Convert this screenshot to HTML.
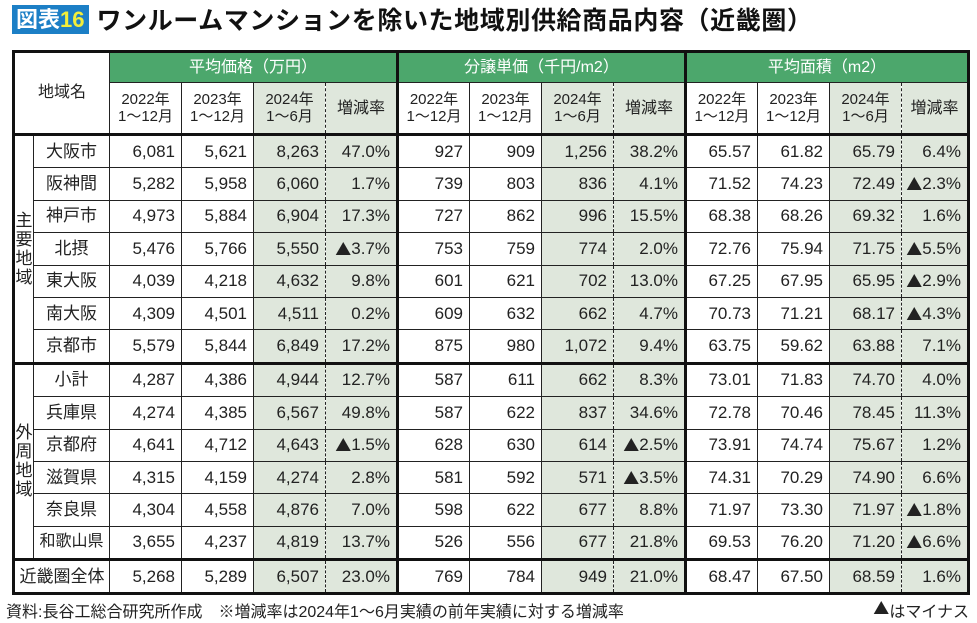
<!DOCTYPE html>
<html><head><meta charset="utf-8"><style>
body{margin:0;width:977px;height:623px;background:#fff;font-family:"Liberation Sans","Noto Sans CJK JP",sans-serif;position:relative;overflow:hidden;color:#222}
.title{position:absolute;left:12px;top:4px;height:30px;display:flex;align-items:center}
.badge{background:#1c7fc6;color:#fff;font-weight:bold;font-size:22px;padding:0 4px;height:29px;line-height:29px}
.badge b{color:#f3ee3a}
.ttl{font-weight:bold;font-size:25px;margin-left:8px;color:#111;letter-spacing:0.6px;font-family:"Noto Sans CJK JP",sans-serif}
table{position:absolute;left:12px;top:50px;border-collapse:collapse;table-layout:fixed;border:3px solid #111}
td{border:1px solid #222;padding:0;font-size:17px;text-align:right;padding-right:6px;height:31.4px;line-height:20px;white-space:nowrap;overflow:hidden}
.h1 td{background:#4ca76c;color:#fff;text-align:center;height:29px;font-size:16px;padding:0}
.h2 td{text-align:center;font-size:15px;line-height:17px;height:50px;padding:0}
.g{background:#dfe7dc}
.nd{border-right:none}
.r{border-left:1.5px dashed #222}
.name{text-align:center;padding:0}
.grp{text-align:center;padding:0;font-size:17px;line-height:19px;white-space:normal}
.tl{border-top:3px solid #111}
.vl{border-left:3px solid #111}
.t{font-family:"Noto Sans CJK JP",sans-serif;font-size:16px;line-height:1;display:inline-block;vertical-align:top;margin-top:1px}
.foot{position:absolute;top:598px;left:6px;font-size:16px;color:#222}
.foot2{position:absolute;top:598px;right:8px;font-size:16px;color:#222}
</style></head><body>
<div class="title"><span class="badge">図表<b>16</b></span><span class="ttl">ワンルームマンションを除いた地域別供給商品内容（近畿圏）</span></div>
<table>
<colgroup><col style="width:20px"><col style="width:76px">
<col style="width:72px"><col style="width:72px"><col style="width:72px"><col style="width:72px">
<col style="width:72px"><col style="width:72px"><col style="width:72px"><col style="width:72px">
<col style="width:72px"><col style="width:72px"><col style="width:72px"><col style="width:67px"></colgroup>
<tr class="h1"><td colspan="2" rowspan="2" style="background:#fff;color:#222;font-size:16px;border-bottom:3px solid #111">地域名</td><td colspan="4">平均価格（万円）</td><td colspan="4" class="vl">分譲単価（千円/m2）</td><td colspan="4" class="vl">平均面積（m2）</td></tr>
<tr class="h2">
<td>2022年<br>1～12月</td><td>2023年<br>1～12月</td><td class="g nd">2024年<br>1～6月</td><td class="g r" style="font-size:16px">増減率</td>
<td class="vl">2022年<br>1～12月</td><td>2023年<br>1～12月</td><td class="g nd">2024年<br>1～6月</td><td class="g r" style="font-size:16px">増減率</td>
<td class="vl">2022年<br>1～12月</td><td>2023年<br>1～12月</td><td class="g nd">2024年<br>1～6月</td><td class="g r" style="font-size:16px">増減率</td></tr>
<tr class="tl"><td rowspan="7" class="grp tl">主<br>要<br>地<br>域</td><td class="name tl">大阪市</td><td>6,081</td><td>5,621</td><td class="g nd">8,263</td><td class="g r">47.0%</td><td class="vl">927</td><td>909</td><td class="g nd">1,256</td><td class="g r">38.2%</td><td class="vl">65.57</td><td>61.82</td><td class="g nd">65.79</td><td class="g r">6.4%</td></tr>
<tr><td class="name">阪神間</td><td>5,282</td><td>5,958</td><td class="g nd">6,060</td><td class="g r">1.7%</td><td class="vl">739</td><td>803</td><td class="g nd">836</td><td class="g r">4.1%</td><td class="vl">71.52</td><td>74.23</td><td class="g nd">72.49</td><td class="g r"><span class="t">▲</span>2.3%</td></tr>
<tr><td class="name">神戸市</td><td>4,973</td><td>5,884</td><td class="g nd">6,904</td><td class="g r">17.3%</td><td class="vl">727</td><td>862</td><td class="g nd">996</td><td class="g r">15.5%</td><td class="vl">68.38</td><td>68.26</td><td class="g nd">69.32</td><td class="g r">1.6%</td></tr>
<tr><td class="name">北摂</td><td>5,476</td><td>5,766</td><td class="g nd">5,550</td><td class="g r"><span class="t">▲</span>3.7%</td><td class="vl">753</td><td>759</td><td class="g nd">774</td><td class="g r">2.0%</td><td class="vl">72.76</td><td>75.94</td><td class="g nd">71.75</td><td class="g r"><span class="t">▲</span>5.5%</td></tr>
<tr><td class="name">東大阪</td><td>4,039</td><td>4,218</td><td class="g nd">4,632</td><td class="g r">9.8%</td><td class="vl">601</td><td>621</td><td class="g nd">702</td><td class="g r">13.0%</td><td class="vl">67.25</td><td>67.95</td><td class="g nd">65.95</td><td class="g r"><span class="t">▲</span>2.9%</td></tr>
<tr><td class="name">南大阪</td><td>4,309</td><td>4,501</td><td class="g nd">4,511</td><td class="g r">0.2%</td><td class="vl">609</td><td>632</td><td class="g nd">662</td><td class="g r">4.7%</td><td class="vl">70.73</td><td>71.21</td><td class="g nd">68.17</td><td class="g r"><span class="t">▲</span>4.3%</td></tr>
<tr><td class="name">京都市</td><td>5,579</td><td>5,844</td><td class="g nd">6,849</td><td class="g r">17.2%</td><td class="vl">875</td><td>980</td><td class="g nd">1,072</td><td class="g r">9.4%</td><td class="vl">63.75</td><td>59.62</td><td class="g nd">63.88</td><td class="g r">7.1%</td></tr>
<tr class="tl"><td rowspan="6" class="grp tl">外<br>周<br>地<br>域</td><td class="name tl" style="border-left:none">小計</td><td>4,287</td><td>4,386</td><td class="g nd">4,944</td><td class="g r">12.7%</td><td class="vl">587</td><td>611</td><td class="g nd">662</td><td class="g r">8.3%</td><td class="vl">73.01</td><td>71.83</td><td class="g nd">74.70</td><td class="g r">4.0%</td></tr>
<tr><td class="name">兵庫県</td><td>4,274</td><td>4,385</td><td class="g nd">6,567</td><td class="g r">49.8%</td><td class="vl">587</td><td>622</td><td class="g nd">837</td><td class="g r">34.6%</td><td class="vl">72.78</td><td>70.46</td><td class="g nd">78.45</td><td class="g r">11.3%</td></tr>
<tr><td class="name">京都府</td><td>4,641</td><td>4,712</td><td class="g nd">4,643</td><td class="g r"><span class="t">▲</span>1.5%</td><td class="vl">628</td><td>630</td><td class="g nd">614</td><td class="g r"><span class="t">▲</span>2.5%</td><td class="vl">73.91</td><td>74.74</td><td class="g nd">75.67</td><td class="g r">1.2%</td></tr>
<tr><td class="name">滋賀県</td><td>4,315</td><td>4,159</td><td class="g nd">4,274</td><td class="g r">2.8%</td><td class="vl">581</td><td>592</td><td class="g nd">571</td><td class="g r"><span class="t">▲</span>3.5%</td><td class="vl">74.31</td><td>70.29</td><td class="g nd">74.90</td><td class="g r">6.6%</td></tr>
<tr><td class="name">奈良県</td><td>4,304</td><td>4,558</td><td class="g nd">4,876</td><td class="g r">7.0%</td><td class="vl">598</td><td>622</td><td class="g nd">677</td><td class="g r">8.8%</td><td class="vl">71.97</td><td>73.30</td><td class="g nd">71.97</td><td class="g r"><span class="t">▲</span>1.8%</td></tr>
<tr><td class="name" style="font-size:16px">和歌山県</td><td>3,655</td><td>4,237</td><td class="g nd">4,819</td><td class="g r">13.7%</td><td class="vl">526</td><td>556</td><td class="g nd">677</td><td class="g r">21.8%</td><td class="vl">69.53</td><td>76.20</td><td class="g nd">71.20</td><td class="g r"><span class="t">▲</span>6.6%</td></tr>
<tr class="tl"><td colspan="2" class="name tl">近畿圏全体</td><td class="tl">5,268</td><td class="tl">5,289</td><td class="g nd tl">6,507</td><td class="g r tl">23.0%</td><td class="vl tl">769</td><td class="tl">784</td><td class="g nd tl">949</td><td class="g r tl">21.0%</td><td class="vl tl">68.47</td><td class="tl">67.50</td><td class="g nd tl">68.59</td><td class="g r tl">1.6%</td></tr>
</table>
<div class="foot">資料:長谷工総合研究所作成　※増減率は2024年1～6月実績の前年実績に対する増減率</div>
<div class="foot2"><span class="t">▲</span>はマイナス</div>
</body></html>
